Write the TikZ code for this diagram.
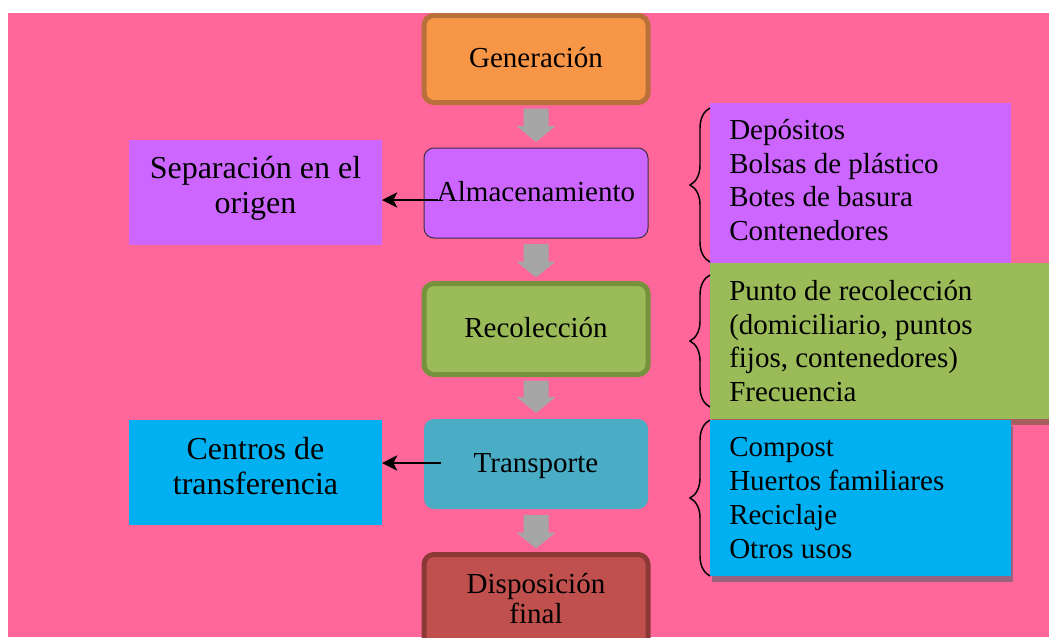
\documentclass[tikz,border=0pt]{standalone}
\usepackage{fontspec}
\setmainfont{Liberation Serif}
\usetikzlibrary{arrows.meta,shadows,decorations.pathreplacing}
\definecolor{bgpink}{HTML}{FF6699}
\definecolor{purp}{HTML}{CC66FF}
\definecolor{grn}{HTML}{9BBB59}
\definecolor{blu}{HTML}{00B0F0}
\definecolor{genfill}{HTML}{F79646}
\definecolor{genline}{HTML}{B9703A}
\definecolor{almline}{HTML}{3C3040}
\definecolor{recline}{HTML}{76923C}
\definecolor{trafill}{HTML}{4BACC6}
\definecolor{disfill}{HTML}{C0504D}
\definecolor{disline}{HTML}{8C3836}
\definecolor{arrowgray}{HTML}{A6A6A6}
\definecolor{shadowA}{HTML}{A5605E}
\definecolor{shadowB}{HTML}{9A627E}
\newcommand{\blockarr}[2]{%
  \fill[arrowgray] ([xshift=-9.375pt,yshift=-4.5pt]#1.south) -- ([xshift=9.375pt,yshift=-4.5pt]#1.south)
    -- ([xshift=9.375pt,yshift=16.5pt]#2.north) -- ([xshift=14.625pt,yshift=16.5pt]#2.north)
    -- ([yshift=4.5pt]#2.north) -- ([xshift=-14.625pt,yshift=16.5pt]#2.north)
    -- ([xshift=-9.375pt,yshift=16.5pt]#2.north) -- cycle;}
\begin{document}
\begin{tikzpicture}[x=0.75pt,y=-0.75pt,
  flow/.style={rounded corners=7.5pt, minimum width=168pt, inner sep=0pt, outer sep=0pt,
    font=\fontsize{21.75}{25.3}\selectfont, text height=15pt, text depth=2pt},
  sidebox/.style={inner sep=0pt, outer sep=0pt, minimum width=189.75pt, minimum height=78.75pt},
  listbox/.style={inner sep=0pt, outer sep=0pt, anchor=center},
  rtext/.style={inner sep=0pt, anchor=north west, align=left, font=\fontsize{21.75}{25.3}\selectfont},
  ltext/.style={inner sep=0pt, anchor=north, align=center, font=\fontsize{24}{26.6}\selectfont},
  dtext/.style={inner sep=0pt, anchor=north, align=center, font=\fontsize{21.75}{21.75}\selectfont},
  conn/.style={draw=black, line width=1.1pt, -{Stealth[length=11.5pt,width=11.5pt,inset=3pt]}},
  bracestyle/.style={draw=black, line width=1.1pt, decorate, decoration={brace, amplitude=15pt}}
]
\clip (0,0) rectangle (1049,637);
\fill[white] (0,0) rectangle (1049,637);
\fill[bgpink] (8,13) rectangle (1049,637);

% right list boxes
\node[listbox, fill=purp, minimum width=225.75pt, minimum height=120pt] (pur) at (860.5,183) {};
\node[listbox, fill=grn, minimum width=262.5pt, minimum height=117pt,
  drop shadow={shadow xshift=1.5pt, shadow yshift=-4.5pt, opacity=1, fill=shadowA}] (grnb) at (885,341) {};
\node[listbox, fill=blu, minimum width=225.75pt, minimum height=117pt,
  drop shadow={shadow xshift=1.5pt, shadow yshift=-4.5pt, opacity=1, fill=shadowB}] (blub) at (860.5,498) {};

\node[rtext] (purT) at (729,115.4) {\strut Depósitos\\Bolsas de plástico\\Botes de basura\\Contenedores};
\node[rtext] (grnT) at (729,276.4) {\strut Punto de recolección\\(domiciliario, puntos\\fijos, contenedores)\\Frecuencia};
\node[rtext] (bluT) at (729,433.1) {\strut Compost\\Huertos familiares\\Reciclaje\\Otros usos};

% braces
\draw[bracestyle] (710,262) -- (710,108);
\draw[bracestyle] (710,407) -- (710,275);
\draw[bracestyle] (710,576) -- (710,420);

% central flow
\node[flow, fill=genfill, draw=genline, line width=3.75pt, minimum height=65.25pt] (gen) at (536,59) {Generación};
\node[flow, fill=purp, draw=almline, line width=0.75pt, minimum height=67.5pt] (alm) at (536,193) {Almacenamiento};
\node[flow, fill=grn, draw=recline, line width=3.75pt, minimum height=68.25pt] (rec) at (536,329) {Recolección};
\node[flow, fill=trafill, minimum height=67.5pt] (tra) at (536,464) {Transporte};
\node[flow, fill=disfill, draw=disline, line width=3.75pt, minimum height=79.1pt] (dis) at (536,607.25) {};
\node[dtext] (disT) at (536,572.7) {\strut Disposición\\final};

\blockarr{gen}{alm}
\blockarr{alm}{rec}
\blockarr{rec}{tra}
\blockarr{tra}{dis}

% left boxes
\node[sidebox, fill=purp] (sep) at (255.5,192.5) {};
\node[ltext] (sepT) at (255.5,153.2) {\strut Separación en el\\origen};
\node[sidebox, fill=blu] (cen) at (255.5,472.5) {};
\node[ltext] (cenT) at (255.5,434.2) {\strut Centros de\\transferencia};

\draw[conn] ([xshift=10.5pt,yshift=-5.25pt]alm.west) -- ([yshift=-5.25pt]alm.west -| sep.east);
\draw[conn] ([xshift=12.75pt,yshift=0.75pt]tra.west) -- ([yshift=0.75pt]tra.west -| cen.east);
\end{tikzpicture}
\end{document}
